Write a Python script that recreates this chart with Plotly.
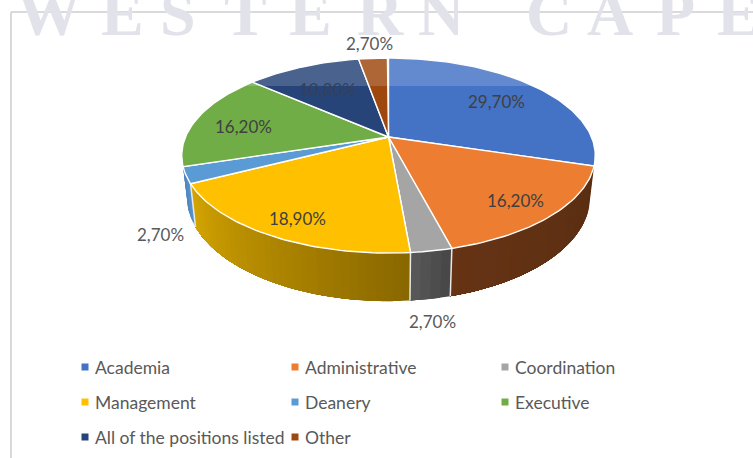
import numpy as np
import plotly.graph_objects as go

categories = ["Academia", "Administrative", "Coordination", "Management",
              "Deanery", "Executive", "All of the positions listed", "Other"]
values = [29.7, 16.2, 2.7, 18.9, 2.7, 16.2, 10.8, 2.7]
value_labels = ["29,70%", "16,20%", "2,70%", "18,90%", "2,70%", "16,20%", "10,80%", "2,70%"]
colors = ["#4472C4", "#ED7D31", "#A5A5A5", "#FFC000", "#5B9BD5", "#70AD47", "#264478", "#9E480E"]

# side-wall colour at the start and at the end of each slice's arc (clockwise)
side_gradients = {
    1: ((0x5a, 0x2e, 0x12), (0x66, 0x33, 0x14)),
    2: ((0x48, 0x48, 0x48), (0x5c, 0x5c, 0x5c)),
    3: ((0x8a, 0x68, 0x00), (0xd6, 0xa6, 0x00)),
    4: ((0x56, 0x92, 0xcc), (0x4a, 0x80, 0xb6)),
}

label_xy = [(496, 101), (515, 200), (432, 321), (297, 218), (160, 234), (243, 126), (327, 89), (369, 43)]
label_colors = ["#404040", "#404040", "#595959", "#404040", "#595959", "#404040", "#34405a", "#595959"]

legend_xy = [(85, 367), (295, 367), (505, 367), (85, 402), (295, 402), (505, 402), (85, 437), (295, 437)]

watermark_letters = ["W", "E", "S", "T", "E", "R", "N", "C", "A", "P", "E"]
watermark_x = [49, 122, 178, 245, 310, 380, 441, 549, 610, 675, 738]

# perspective projection of the disc
CX, CY, D, C, K = 388.5, 137.0, 203.0, 94.0, 0.19
LOW_Y0, LOW_SY, LOW_SX = 177.0, 1.07, 0.975


def top_rim(theta_deg):
    t = np.radians(theta_deg)
    u, v = np.sin(t), np.cos(t)
    den = 1 + K * v
    return CX + D * u / den, CY - C * v / den


def low_rim(theta_deg):
    x, y = top_rim(theta_deg)
    return CX + (x - CX) * LOW_SX, LOW_Y0 + (y - CY) * LOW_SY


edges = np.concatenate([[0.0], np.cumsum(values)]) * 3.6
fig = go.Figure()


def poly(xs, ys, fill, line_color, line_width):
    fig.add_trace(go.Scatter(x=xs, y=ys, mode="lines", fill="toself", fillcolor=fill,
                             line=dict(color=line_color, width=line_width),
                             hoverinfo="skip", showlegend=False))


# side walls: each step paints from its start to the slice's end, so no seams show
for i, (c0, c1) in side_gradients.items():
    a0, a1 = edges[i], edges[i + 1]
    n = max(4, int((a1 - a0) / 2.0))
    for s0 in np.linspace(a0, a1, n + 1)[:-1]:
        f = (s0 - a0) / (a1 - a0)
        rgb = tuple(int(round(c0[k] + (c1[k] - c0[k]) * f)) for k in range(3))
        col = "rgb(%d,%d,%d)" % rgb
        th = np.linspace(s0, a1, 40)
        tx, ty = top_rim(th)
        bx, by = low_rim(th)
        poly(list(tx) + list(bx[::-1]) + [tx[0]], list(ty) + list(by[::-1]) + [ty[0]], col, col, 0)

# pale seams between walls
for i in [2, 3, 4]:
    tx, ty = top_rim(edges[i])
    bx, by = low_rim(edges[i])
    fig.add_trace(go.Scatter(x=[tx, bx], y=[ty, by], mode="lines",
                             line=dict(color="#e8e8e8", width=1.5),
                             hoverinfo="skip", showlegend=False))

# top face
for i, col in enumerate(colors):
    th = np.linspace(edges[i], edges[i + 1], max(3, int(values[i] * 3)))
    ax, ay = top_rim(th)
    poly([CX] + list(ax) + [CX], [CY] + list(ay) + [CY], col, "#ffffff", 1.4)

# legend
for name, col, (lx, ly) in zip(categories, colors, legend_xy):
    fig.add_trace(go.Scatter(x=[lx], y=[ly], mode="markers",
                             marker=dict(symbol="square", size=7, color=col),
                             hoverinfo="skip", showlegend=False))

annotations = []
for ch, wx in zip(watermark_letters, watermark_x):
    annotations.append(dict(x=wx, y=13, text=ch, showarrow=False, xref="x", yref="y",
                            font=dict(family="Liberation Serif", size=64, color="#e2e2ea", weight="bold")))
for txt, col, (lx, ly) in zip(value_labels, label_colors, label_xy):
    annotations.append(dict(x=lx, y=ly, text=txt, showarrow=False, xref="x", yref="y",
                            font=dict(family="Lato", size=17, color=col)))
for name, (lx, ly) in zip(categories, legend_xy):
    annotations.append(dict(x=lx + 8, y=ly, text=name, showarrow=False, xref="x", yref="y",
                            xanchor="left", font=dict(family="Lato", size=17.5, color="#595959")))

shapes = [
    dict(type="rect", xref="x", yref="y", x0=0, x1=753, y0=0, y1=86, layer="above",
         fillcolor="rgba(255,255,255,0.17)", line=dict(width=0)),
    dict(type="line", xref="x", yref="y", x0=11, x1=753, y0=12, y1=12, layer="above",
         line=dict(color="rgba(190,190,195,0.75)", width=1.5)),
    dict(type="line", xref="x", yref="y", x0=11, x1=11, y0=12, y1=458, layer="above",
         line=dict(color="#d9d9d9", width=2)),
]

fig.update_layout(
    width=753, height=458, margin=dict(l=0, r=0, t=0, b=0),
    paper_bgcolor="#ffffff", plot_bgcolor="#ffffff", showlegend=False,
    xaxis=dict(range=[0, 753], visible=False, fixedrange=True),
    yaxis=dict(range=[458, 0], visible=False, fixedrange=True),
    annotations=annotations, shapes=shapes,
)
fig.write_html("out.html", config={"displayModeBar": False},
               post_script="document.body.style.margin='0';")
